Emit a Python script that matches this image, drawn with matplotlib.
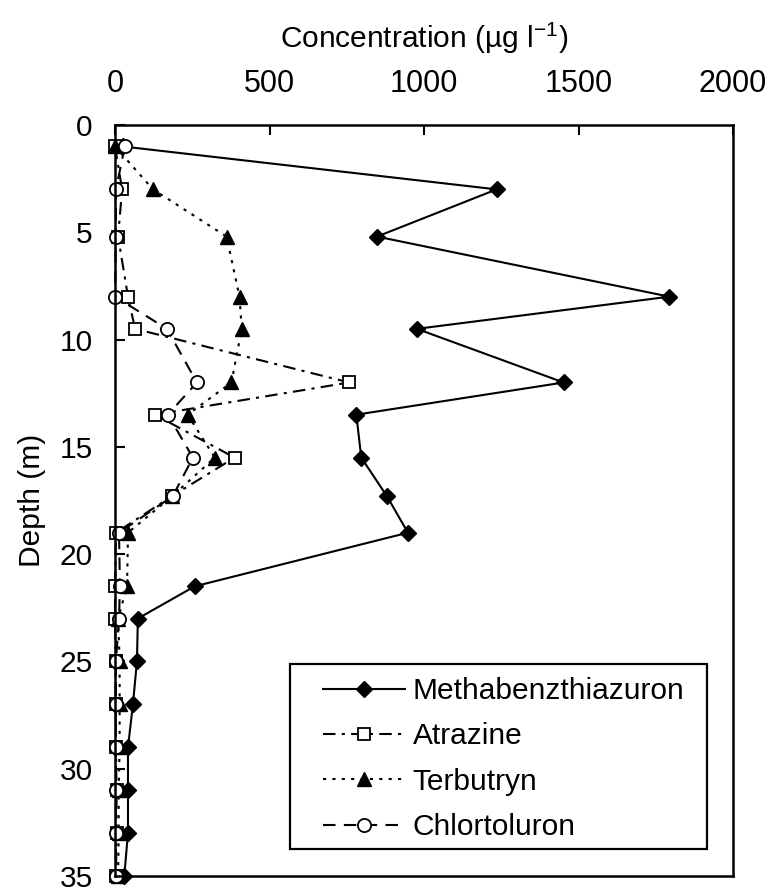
import matplotlib
matplotlib.use('Agg')
import matplotlib.pyplot as plt
import matplotlib.patches as patches

# depth profile (m) and concentrations (ug/l)
depth = [1, 3, 5.2, 8, 9.5, 12, 13.5, 15.5, 17.3, 19, 21.5, 23, 25, 27, 29, 31, 33, 35]
methabenzthiazuron = [25, 1235, 848, 1794, 977, 1452, 781, 797, 880, 948, 258, 74, 71, 58, 42, 42, 42, 30]
atrazine = [0, 23, 10, 42, 65, 758, 129, 387, 184, 3, 0, 0, 2, 2, 3, 5, 5, 3]
terbutryn = [0, 123, 361, 403, 410, 377, 235, 323, 185, 42, 39, 10, 15, 15, 15, 12, 12, 10]
chlortoluron = [32, 3, 3, 0, 168, 265, 171, 252, 187, 13, 16, 13, 3, 3, 3, 3, 3, 3]

x_ticks = [0, 500, 1000, 1500, 2000]
y_ticks = [0, 5, 10, 15, 20, 25, 30, 35]

plt.rcParams['font.family'] = ['Liberation Sans', 'DejaVu Sans']

fig = plt.figure(figsize=(7.73, 8.92), dpi=100)
ax = fig.add_axes([115 / 773, 1 - 876 / 892, 618 / 773, 751 / 892])

lw = 1.5
ms = 9.5
ax.plot(methabenzthiazuron, depth, color='black', lw=lw, linestyle='-',
        marker='D', markersize=ms * 0.85, markerfacecolor='black',
        markeredgecolor='black', clip_on=False, label='Methabenzthiazuron')
ax.plot(atrazine, depth, color='black', lw=lw, linestyle=(0, (6, 3, 1.5, 3)),
        marker='s', markersize=ms * 0.9, markerfacecolor='white',
        markeredgecolor='black', markeredgewidth=1.3, clip_on=False, label='Atrazine')
ax.plot(terbutryn, depth, color='black', lw=lw, linestyle=(0, (1.5, 3)),
        marker='^', markersize=ms * 1.05, markerfacecolor='black',
        markeredgecolor='black', clip_on=False, label='Terbutryn')
ax.plot(chlortoluron, depth, color='black', lw=lw, linestyle=(0, (6, 4)),
        marker='o', markersize=ms, markerfacecolor='white',
        markeredgecolor='black', markeredgewidth=1.3, clip_on=False, label='Chlortoluron')

ax.set_xlim(0, 2000)
ax.set_ylim(35, 0)
ax.set_xticks(x_ticks)
ax.set_yticks(y_ticks)

ax.xaxis.set_ticks_position('top')
ax.xaxis.set_label_position('top')
ax.tick_params(axis='x', direction='in', length=7, width=1.5, pad=19, labelsize=22)
ax.tick_params(axis='y', direction='in', length=7, width=1.5, pad=16, labelsize=21.5)

for s in ax.spines.values():
    s.set_linewidth(1.8)

ax.set_xlabel('Concentration (µg l$^{\\mathregular{-1}}$)', fontsize=21.5, labelpad=15)
ax.set_ylabel('Depth (m)', fontsize=21.5, labelpad=10)

# legend frame drawn separately to match the wide left padding
frame = patches.Rectangle((175 / 751 * 751 / 618, 27 / 751), 417 / 618, 185 / 751,
                          transform=ax.transAxes, fill=False, edgecolor='black',
                          linewidth=1.6, zorder=5)
ax.add_patch(frame)
ax.legend(loc='upper left', bbox_to_anchor=(208 / 618, 199 / 751), borderaxespad=0,
          borderpad=0, frameon=False, fontsize=21.5, handlelength=2.75,
          handletextpad=0.25, labelspacing=0.58, numpoints=1)

fig.savefig('out.png', dpi=100, facecolor='white')
